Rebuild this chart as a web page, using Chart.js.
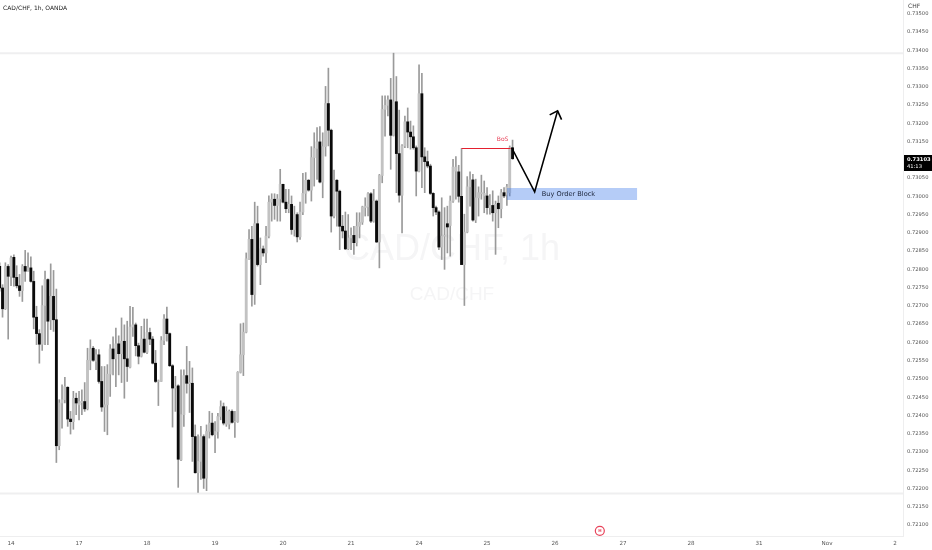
<!DOCTYPE html>
<html><head><meta charset="utf-8">
<style>html,body{margin:0;padding:0;background:#fff}canvas{display:block;filter:blur(0.35px)}</style>
<script src="https://cdn.jsdelivr.net/npm/chart.js@4"></script>
</head><body><canvas id="c" width="932" height="550"></canvas>
<script>
const openP=[0.72808,0.72749,0.72692,0.72808,0.72781,0.72833,0.72778,0.72755,0.72742,0.72808,0.72795,0.72804,0.72767,0.72669,0.72624,0.72595,0.72701,0.72772,0.72662,0.72726,0.72662,0.72317,0.72434,0.72443,0.72477,0.72390,0.72383,0.72447,0.72429,0.72435,0.72438,0.72418,0.72551,0.72584,0.72548,0.72566,0.72493,0.72423,0.72429,0.72513,0.72582,0.72555,0.72596,0.72569,0.72603,0.72555,0.72532,0.72642,0.72648,0.72591,0.72562,0.72609,0.72573,0.72627,0.72609,0.72543,0.72493,0.72493,0.72605,0.72664,0.72624,0.72536,0.72475,0.72481,0.72278,0.72402,0.72509,0.72487,0.72488,0.72342,0.72243,0.72274,0.72342,0.72228,0.72356,0.72379,0.72347,0.72356,0.72397,0.72424,0.72376,0.72376,0.72411,0.72382,0.72383,0.72518,0.72566,0.72628,0.72829,0.72882,0.72731,0.72925,0.72813,0.72856,0.72845,0.72891,0.72984,0.72992,0.72975,0.72993,0.73033,0.72984,0.72966,0.72978,0.72909,0.72950,0.72889,0.72957,0.73008,0.73044,0.73017,0.73106,0.73131,0.73149,0.73039,0.73136,0.73254,0.73181,0.72946,0.73044,0.73014,0.72918,0.72905,0.72856,0.72886,0.72893,0.72873,0.72918,0.72929,0.72969,0.72971,0.73007,0.72932,0.72987,0.72875,0.73057,0.73238,0.73249,0.73264,0.73167,0.73259,0.73117,0.73003,0.73138,0.73204,0.73176,0.73163,0.73133,0.73069,0.73281,0.73108,0.73095,0.73083,0.73008,0.72969,0.72957,0.72861,0.72891,0.72925,0.72920,0.72987,0.73069,0.73067,0.73000,0.72813,0.72902,0.73026,0.73045,0.72935,0.72996,0.73007,0.73001,0.73001,0.72969,0.72975,0.72955,0.72981,0.72966,0.73010,0.73005,0.73010,0.73133];
const closeP=[0.72749,0.72692,0.72808,0.72781,0.72831,0.72778,0.72755,0.72742,0.72808,0.72795,0.72804,0.72767,0.72669,0.72624,0.72595,0.72701,0.72772,0.72658,0.72726,0.72662,0.72317,0.72434,0.72443,0.72479,0.72390,0.72383,0.72447,0.72434,0.72438,0.72438,0.72418,0.72551,0.72582,0.72551,0.72566,0.72493,0.72423,0.72429,0.72513,0.72582,0.72555,0.72596,0.72569,0.72603,0.72555,0.72534,0.72642,0.72648,0.72591,0.72562,0.72609,0.72573,0.72627,0.72609,0.72543,0.72493,0.72495,0.72605,0.72664,0.72624,0.72536,0.72475,0.72479,0.72280,0.72402,0.72509,0.72488,0.72490,0.72342,0.72243,0.72274,0.72342,0.72228,0.72356,0.72379,0.72347,0.72356,0.72397,0.72424,0.72379,0.72411,0.72411,0.72381,0.72384,0.72518,0.72566,0.72628,0.72829,0.72882,0.72731,0.72925,0.72813,0.72856,0.72845,0.72891,0.72984,0.72992,0.72975,0.72993,0.73033,0.72984,0.72966,0.72978,0.72909,0.72950,0.72889,0.72957,0.73008,0.73044,0.73017,0.73106,0.73131,0.73149,0.73039,0.73136,0.73254,0.73181,0.72946,0.73044,0.73014,0.72918,0.72905,0.72856,0.72886,0.72893,0.72873,0.72918,0.72929,0.72971,0.72973,0.73007,0.72932,0.72987,0.72875,0.73057,0.73238,0.73249,0.73264,0.73167,0.73259,0.73117,0.73003,0.73138,0.73204,0.73176,0.73163,0.73133,0.73069,0.73281,0.73108,0.73095,0.73083,0.73008,0.72969,0.72957,0.72861,0.72891,0.72893,0.72916,0.72987,0.73080,0.73080,0.73000,0.72813,0.72902,0.73026,0.73045,0.72935,0.72996,0.73010,0.73010,0.73008,0.72969,0.72975,0.72955,0.72978,0.72966,0.73010,0.73001,0.73026,0.73133,0.73103];
const highP=[0.72818,0.72758,0.72818,0.72813,0.72836,0.72840,0.72810,0.72786,0.72813,0.72852,0.72845,0.72834,0.72795,0.72699,0.72635,0.72755,0.72795,0.72774,0.72815,0.72797,0.72746,0.72443,0.72484,0.72504,0.72479,0.72411,0.72466,0.72461,0.72466,0.72470,0.72490,0.72584,0.72607,0.72589,0.72580,0.72580,0.72534,0.72534,0.72539,0.72594,0.72615,0.72639,0.72618,0.72667,0.72648,0.72658,0.72699,0.72696,0.72653,0.72598,0.72644,0.72664,0.72664,0.72639,0.72616,0.72578,0.72497,0.72616,0.72676,0.72697,0.72626,0.72539,0.72507,0.72484,0.72525,0.72525,0.72589,0.72548,0.72530,0.72374,0.72347,0.72370,0.72347,0.72374,0.72411,0.72406,0.72383,0.72406,0.72440,0.72434,0.72424,0.72415,0.72415,0.72411,0.72520,0.72651,0.72653,0.72845,0.72909,0.72918,0.72984,0.72973,0.72886,0.72864,0.72918,0.73001,0.73007,0.73007,0.73005,0.73074,0.73033,0.73019,0.73019,0.73001,0.72973,0.72955,0.72984,0.73063,0.73065,0.73046,0.73136,0.73174,0.73188,0.73191,0.73174,0.73301,0.73351,0.73184,0.73072,0.73046,0.73017,0.72948,0.72957,0.72950,0.72914,0.72918,0.72955,0.72955,0.72973,0.72996,0.73010,0.73010,0.73019,0.72990,0.73060,0.73275,0.73275,0.73275,0.73323,0.73392,0.73328,0.73236,0.73142,0.73220,0.73242,0.73206,0.73193,0.73138,0.73360,0.73337,0.73133,0.73124,0.73088,0.73010,0.72973,0.72960,0.72996,0.72969,0.72973,0.73001,0.73101,0.73109,0.73085,0.73131,0.72951,0.73054,0.73067,0.73060,0.73047,0.73026,0.73058,0.73042,0.73024,0.73005,0.73015,0.72987,0.73001,0.73019,0.73024,0.73033,0.73138,0.73154];
const lowP=[0.72740,0.72669,0.72690,0.72609,0.72755,0.72754,0.72749,0.72726,0.72712,0.72767,0.72795,0.72765,0.72637,0.72594,0.72543,0.72578,0.72594,0.72594,0.72635,0.72630,0.72271,0.72306,0.72365,0.72434,0.72370,0.72349,0.72362,0.72402,0.72388,0.72402,0.72411,0.72415,0.72525,0.72548,0.72525,0.72488,0.72411,0.72356,0.72347,0.72452,0.72511,0.72479,0.72511,0.72490,0.72447,0.72493,0.72530,0.72616,0.72563,0.72541,0.72560,0.72571,0.72569,0.72594,0.72541,0.72490,0.72427,0.72493,0.72594,0.72603,0.72534,0.72368,0.72411,0.72203,0.72276,0.72370,0.72461,0.72408,0.72274,0.72242,0.72189,0.72225,0.72200,0.72194,0.72338,0.72344,0.72298,0.72338,0.72388,0.72374,0.72370,0.72363,0.72379,0.72340,0.72381,0.72516,0.72509,0.72626,0.72827,0.72699,0.72704,0.72809,0.72758,0.72836,0.72818,0.72886,0.72932,0.72937,0.72932,0.72932,0.72982,0.72955,0.72955,0.72896,0.72891,0.72875,0.72882,0.72950,0.72981,0.73014,0.72987,0.73028,0.73046,0.73037,0.72996,0.73110,0.73138,0.72902,0.72941,0.72918,0.72854,0.72886,0.72854,0.72854,0.72854,0.72841,0.72864,0.72886,0.72923,0.72946,0.72946,0.72928,0.72929,0.72873,0.72804,0.73037,0.73165,0.73220,0.73074,0.73165,0.73010,0.72984,0.72900,0.73133,0.73133,0.73129,0.73129,0.73001,0.73067,0.73024,0.73010,0.73078,0.73005,0.72946,0.72950,0.72854,0.72827,0.72800,0.72845,0.72836,0.72983,0.72992,0.72984,0.72813,0.72701,0.72900,0.72973,0.72932,0.72928,0.72946,0.72992,0.72955,0.72951,0.72951,0.72932,0.72841,0.72914,0.72941,0.72996,0.72975,0.73001,0.73101];
const priceTicks=[0.735,0.7345,0.734,0.7335,0.733,0.7325,0.732,0.7315,0.731,0.7305,0.73,0.7295,0.729,0.7285,0.728,0.7275,0.727,0.7265,0.726,0.7255,0.725,0.7245,0.724,0.7235,0.723,0.7225,0.722,0.7215,0.721];
const dayHours=[4,28,52,76,100,124,148,172,196,220,244,268,292,316];
const dayLabels=['14','17','18','19','20','21','24','25','26','27','28','31','Nov','2'];
const upperLevel=0.73392, lowerLevel=0.72186;
const bosHours=[163,180.3], bosPrice=0.73131;
const zoneHours=[179,225], zoneHigh=0.73023, zoneLow=0.72990;
const pathHours=[180.7,188.8,196.9], pathPrices=[0.73133,0.73012,0.73234];
const headHours=[194.1,196.9,198.3], headPrices=[0.73223,0.73234,0.73210];
const eventHour=211.8, eventPrice=0.72084;
const lastPrice='0.73103', countdown='41:13';

const X_MIN=0.106,X_MAX=318.8;
const idx=openP.map((_,i)=>i);
const upIdx=idx.filter(i=>closeP[i]>=openP[i]);
const dnIdx=idx.filter(i=>closeP[i]<openP[i]);
const line=(xs,ys,color,width,order,extra)=>Object.assign({type:'line',data:xs.map((x,i)=>({x,y:ys[i]})),borderColor:color,borderWidth:width,pointRadius:0,pointBorderWidth:0,tension:0,fill:false,order,clip:false},extra||{});

const textPlugin={id:'texts',
 beforeDatasetsDraw(ch){const c=ch.ctx;c.save();c.textAlign='center';c.textBaseline='middle';c.fillStyle='#f5f5f6';
  c.font='36px "Liberation Sans"';c.fillText('CAD/CHF, 1h',452,250);
  c.font='19px "Liberation Sans"';c.fillText('CAD/CHF',452,295);c.restore();},
 afterDraw(ch){const c=ch.ctx,x=ch.scales.x,y=ch.scales.y;c.save();c.textBaseline='middle';
  c.fillStyle='#222';c.font='6px "DejaVu Sans"';c.textAlign='left';c.fillText('CAD/CHF, 1h, OANDA',3,8);
  c.fillStyle='#444';c.fillText('CHF',908,6);
  c.fillStyle='#e8435a';c.font='6px "DejaVu Sans"';c.textAlign='center';c.fillText('BoS',x.getPixelForValue(177.5),y.getPixelForValue(0.73155));
  c.fillStyle='#1a2338';c.font='6.6px "DejaVu Sans"';c.textAlign='left';c.fillText('Buy Order Block',x.getPixelForValue(191.3),y.getPixelForValue(0.73006));
  const ex=x.getPixelForValue(eventHour),ey=y.getPixelForValue(eventPrice);
  c.beginPath();c.arc(ex,ey,4.5,0,Math.PI*2);c.fillStyle='#fff';c.fill();c.strokeStyle='#e8435a';c.lineWidth=1.2;c.stroke();
  c.fillStyle='#e8435a';c.font='bold 4px "DejaVu Sans"';c.textAlign='center';c.fillText('H',ex,ey);
  c.fillStyle='#000';c.fillRect(904,155,28,16);
  c.fillStyle='#fff';c.textAlign='left';c.font='bold 5.2px "DejaVu Sans"';c.fillText(lastPrice,907,159.5);
  c.font='5.2px "DejaVu Sans"';c.fillText(countdown,907,166.5);
  c.restore();}};

new Chart(document.getElementById('c'),{
 type:'bar',
 data:{datasets:[
  line([X_MIN,X_MAX],[upperLevel,upperLevel],'#efeff0',2,9),
  line([X_MIN,X_MAX],[lowerLevel,lowerLevel],'#efeff0',2,9),
  {type:'bar',data:idx.map(i=>({x:i,y:[lowP[i],highP[i]]})),backgroundColor:'#9a9a9a',barThickness:1,grouped:false,order:8},
  {type:'bar',data:upIdx.map(i=>({x:i,y:[openP[i],closeP[i]]})),backgroundColor:'#c2c2c2',barThickness:2.2,grouped:false,order:7},
  {type:'bar',data:dnIdx.map(i=>({x:i,y:[openP[i],closeP[i]]})),backgroundColor:'#0a0a0a',barThickness:2.2,grouped:false,order:6},
  line(zoneHours,[zoneHigh,zoneHigh],'rgba(0,0,0,0)',0,5,{fill:{value:zoneLow},backgroundColor:'rgba(60,120,235,0.38)'}),
  line(bosHours,[bosPrice,bosPrice],'#e4202f',1.2,4),
  line(pathHours,pathPrices,'#000',1.6,3),
  line(headHours,headPrices,'#000',1.6,3)
 ]},
 options:{responsive:false,animation:false,devicePixelRatio:1,
  layout:{padding:0},
  plugins:{legend:{display:false},tooltip:{enabled:false}},
  scales:{
   x:{type:'linear',offset:false,min:X_MIN,max:X_MAX,grid:{display:false,drawTicks:false},border:{color:'#eeeeef',width:1},
    afterBuildTicks(a){a.ticks=dayHours.map(v=>({value:v}));},
    afterFit(a){a.height=14;a.paddingLeft=0;a.paddingRight=0;},
    ticks:{autoSkip:false,maxRotation:0,padding:4,color:'#555',font:{family:'"DejaVu Sans"',size:5.6},callback:v=>dayLabels[dayHours.indexOf(v)]}},
   y:{type:'linear',position:'right',min:0.720698,max:0.735376,grid:{display:false,drawTicks:false},border:{color:'#eeeeef',width:1},
    afterBuildTicks(a){a.ticks=priceTicks.map(v=>({value:v}));},
    afterFit(a){a.width=29;a.paddingTop=0;a.paddingBottom=0;},
    ticks:{autoSkip:false,padding:4,color:'#555',font:{family:'"DejaVu Sans"',size:5.2},callback:v=>v.toFixed(5)}}
  }},
 plugins:[textPlugin]
});
</script></body></html>
